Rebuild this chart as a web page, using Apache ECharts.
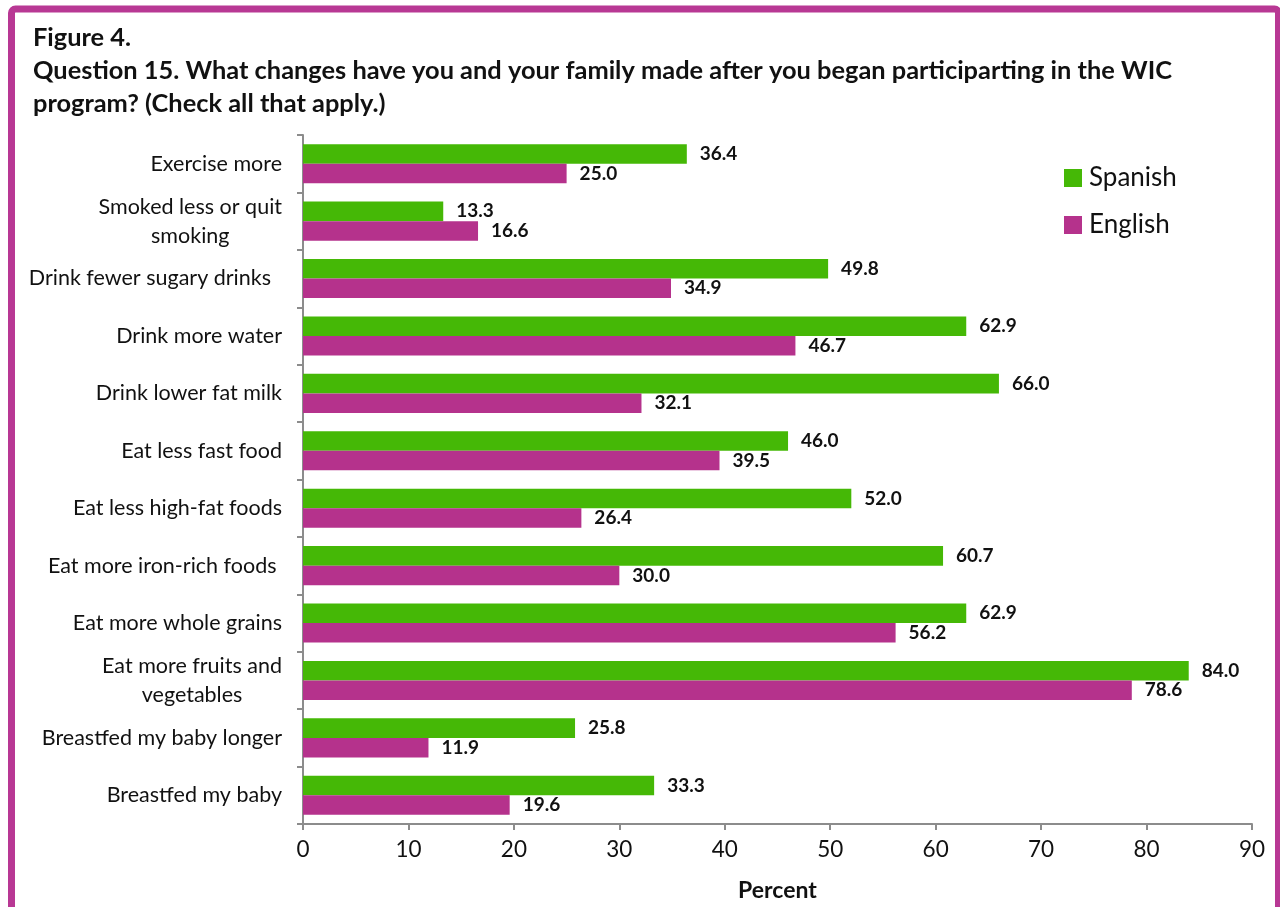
<!DOCTYPE html>
<html>
<head>
<meta charset="utf-8">
<script src="https://cdn.jsdelivr.net/npm/echarts@6/dist/echarts.min.js"></script>
<style>
  html, body { margin: 0; padding: 0; background: #ffffff; }
  #chart { width: 1280px; height: 907px; }
</style>
</head>
<body>
<div id="chart"></div>
<script>
// Survey responses, Question 15 (percent of respondents, by survey language)
const categories = [
  'Exercise more',
  'Smoked less or quit\nsmoking',
  'Drink fewer sugary drinks  ',
  'Drink more water',
  'Drink lower fat milk',
  'Eat less fast food',
  'Eat less high-fat foods',
  'Eat more iron-rich foods ',
  'Eat more whole grains',
  'Eat more fruits and\nvegetables',
  'Breastfed my baby longer',
  'Breastfed my baby'
];
const spanish = [36.4, 13.3, 49.8, 62.9, 66.0, 46.0, 52.0, 60.7, 62.9, 84.0, 25.8, 33.3];
const english = [25.0, 16.6, 34.9, 46.7, 32.1, 39.5, 26.4, 30.0, 56.2, 78.6, 11.9, 19.6];
const seriesNames = ['Spanish', 'English'];
const titleLines = [
  'Figure 4.',
  'Question 15. What changes have you and your family made after you began participarting in the WIC',
  'program? (Check all that apply.)'
];
const axisTitle = 'Percent';

const FONT = 'Lato, "Open Sans", sans-serif';
const GREEN = '#45B806';
const MAGENTA = '#B5328C';
const AXIS_GREY = '#8c8c8c';

const chart = echarts.init(document.getElementById('chart'), null, { renderer: 'canvas' });

const valueLabel = {
  show: true,
  position: 'right',
  distance: 13,
  fontFamily: FONT,
  fontWeight: 'bold',
  fontSize: 19,
  color: '#111',
  formatter: p => p.value.toFixed(1)
};

chart.setOption({
  backgroundColor: '#ffffff',
  animation: false,
  textStyle: { fontFamily: FONT },
  graphic: [
    {
      type: 'rect',
      shape: { x: 11.5, y: 9, width: 1267, height: 920, r: 4 },
      style: { fill: 'none', stroke: '#B83894', lineWidth: 7 },
      silent: true
    },
    {
      type: 'text',
      left: 33,
      top: 21,
      style: {
        text: titleLines.join('\n'),
        font: 'bold 25.4px ' + FONT,
        lineHeight: 33,
        fill: '#111'
      }
    }
  ],
  legend: {
    orient: 'vertical',
    left: 1059,
    top: 160,
    itemWidth: 18,
    itemHeight: 18,
    itemGap: 21,
    icon: 'rect',
    data: seriesNames,
    textStyle: { fontFamily: FONT, fontSize: 26, color: '#111', padding: [0, 0, 0, 2] }
  },
  grid: { left: 303, right: 28, top: 135, bottom: 81, containLabel: false },
  xAxis: {
    type: 'value',
    min: 0,
    max: 90,
    interval: 10,
    name: axisTitle,
    nameLocation: 'middle',
    nameGap: 55,
    nameTextStyle: { fontFamily: FONT, fontWeight: 'bold', fontSize: 23, color: '#111' },
    axisLine: { show: true, lineStyle: { color: AXIS_GREY, width: 2 } },
    axisTick: { show: true, length: 6, lineStyle: { color: AXIS_GREY, width: 2 } },
    axisLabel: { fontFamily: FONT, fontSize: 22.5, color: '#111', margin: 14 },
    splitLine: { show: false }
  },
  yAxis: {
    type: 'category',
    inverse: true,
    data: categories,
    axisLine: { show: true, lineStyle: { color: AXIS_GREY, width: 2 } },
    axisTick: { show: true, length: 6, inside: false, lineStyle: { color: AXIS_GREY, width: 2 } },
    axisLabel: {
      margin: 21,
      align: 'right',
      formatter: v => '{c|' + v + '}',
      rich: {
        c: { fontFamily: FONT, fontSize: 21.5, color: '#111', lineHeight: 29, align: 'center' }
      }
    }
  },
  series: [
    {
      name: seriesNames[0],
      type: 'bar',
      data: spanish,
      itemStyle: { color: GREEN },
      barGap: '0%',
      barCategoryGap: '32%',
      label: valueLabel
    },
    {
      name: seriesNames[1],
      type: 'bar',
      data: english,
      itemStyle: { color: MAGENTA },
      barGap: '0%',
      barCategoryGap: '32%',
      label: valueLabel
    }
  ]
});
</script>
</body>
</html>
